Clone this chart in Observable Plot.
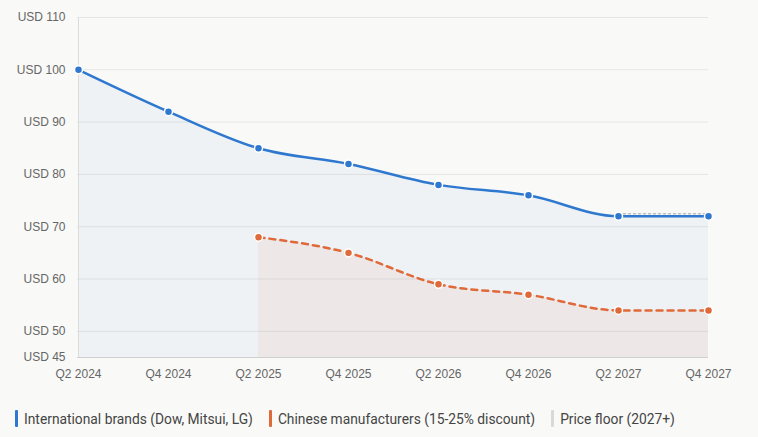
<!DOCTYPE html>
<html>
<head>
<meta charset="utf-8">
<script src="https://cdn.jsdelivr.net/npm/d3@7"></script>
<script src="https://cdn.jsdelivr.net/npm/@observablehq/plot@0.6"></script>
<style>
  html, body { margin: 0; padding: 0; background: #f9f9f7; }
  #chart { width: 758px; }
  .legend { display: flex; align-items: center; margin: 18px 0 0 15px; font-family: Roboto, sans-serif; font-size: 13.8px; color: #444; }
  .legend .item { display: flex; align-items: center; margin-right: 16px; }
  .legend .sw { width: 3px; height: 17px; border-radius: 1px; margin-right: 6px; }
</style>
</head>
<body>
<div id="chart"></div>
<script>
const quarters = ["Q2 2024","Q4 2024","Q2 2025","Q4 2025","Q2 2026","Q4 2026","Q2 2027","Q4 2027"];
const intlValues = [100, 92, 85, 82, 78, 76, 72, 72];
const chineseQuarters = ["Q2 2025","Q4 2025","Q2 2026","Q4 2026","Q2 2027","Q4 2027"];
const chineseValues = [68, 65, 59, 57, 54, 54];
const floorQuarters = ["Q2 2027","Q4 2027"];
const floorValues = [72.5, 72.5];
const yTicks = [45, 50, 60, 70, 80, 90, 100, 110];
const seriesNames = ["International brands (Dow, Mitsui, LG)", "Chinese manufacturers (15-25% discount)", "Price floor (2027+)"];
const seriesColors = ["#2f78cf", "#e0693a", "#d9d9d9"];

const intl = quarters.map((q, i) => ({q, v: intlValues[i]}));
const chinese = chineseQuarters.map((q, i) => ({q, v: chineseValues[i]}));
const floor = floorQuarters.map((q, i) => ({q, v: floorValues[i]}));

const chart = Plot.plot({
  width: 758,
  height: 392,
  marginLeft: 77,
  marginRight: 50,
  marginTop: 17,
  marginBottom: 35,
  style: {background: "transparent", fontFamily: "'Liberation Sans', Arial, sans-serif", fontSize: "12px", color: "#666"},
  x: {type: "point", domain: quarters, padding: 0, label: null},
  y: {domain: [45, 110], label: null},
  marks: [
    Plot.gridY(yTicks, {stroke: "#e6e6e4", strokeOpacity: 1}),
    Plot.areaY(intl, {x: "q", y1: 45, y2: "v", curve: "monotone-x", fill: seriesColors[0], fillOpacity: 0.055}),
    Plot.areaY(chinese, {x: "q", y1: 45, y2: "v", curve: "monotone-x", fill: seriesColors[1], fillOpacity: 0.065}),
    Plot.ruleX([quarters[0]], {y1: 45, y2: 110, stroke: "#dcdcdc"}),
    Plot.ruleY([45], {stroke: "#d0d0d0"}),
    Plot.line(floor, {x: "q", y: "v", stroke: "#bdbdbd", strokeWidth: 1.5, strokeDasharray: "2,3"}),
    Plot.line(intl, {x: "q", y: "v", curve: "monotone-x", stroke: seriesColors[0], strokeWidth: 2.5}),
    Plot.line(chinese, {x: "q", y: "v", curve: "monotone-x", stroke: seriesColors[1], strokeWidth: 2.5, strokeDasharray: "6,5"}),
    Plot.dot(intl, {x: "q", y: "v", r: 4, fill: seriesColors[0], stroke: "white", strokeWidth: 1.5}),
    Plot.dot(chinese, {x: "q", y: "v", r: 4, fill: seriesColors[1], stroke: "white", strokeWidth: 1.5}),
    Plot.axisY(yTicks, {tickSize: 0, tickPadding: 12, tickFormat: d => "USD " + d, fill: "#666", fontSize: 12}),
    Plot.axisX(quarters, {tickSize: 0, tickPadding: 12, fill: "#666", fontSize: 12})
  ]
});
document.getElementById("chart").appendChild(chart);

const legend = document.createElement("div");
legend.className = "legend";
seriesNames.forEach((name, i) => {
  const item = document.createElement("div");
  item.className = "item";
  const sw = document.createElement("span");
  sw.className = "sw";
  sw.style.background = seriesColors[i];
  const t = document.createElement("span");
  t.textContent = name;
  item.appendChild(sw);
  item.appendChild(t);
  legend.appendChild(item);
});
document.getElementById("chart").appendChild(legend);
</script>
</body>
</html>
